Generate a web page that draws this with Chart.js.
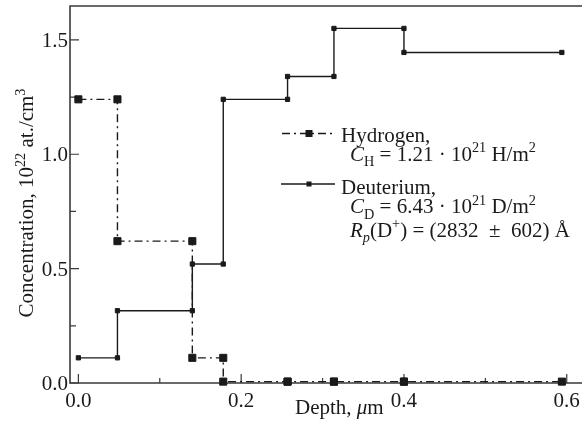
<!DOCTYPE html>
<html>
<head>
<meta charset="utf-8">
<script src="https://cdn.jsdelivr.net/npm/chart.js@4.4.1/dist/chart.umd.min.js"></script>
<style>
  html, body { margin: 0; padding: 0; background: #fff; }
  #wrap { width: 586px; height: 430px; }
</style>
</head>
<body>
<div id="wrap"><canvas id="c" width="586" height="430"></canvas></div>
<script>
// ---- data ----
const depthEdges = [0, 0.048, 0.14, 0.178, 0.257, 0.314, 0.40, 0.594];   // µm, layer boundaries
const hydrogen   = [1.24, 0.62, 0.11, 0.006, 0.006, 0.006, 0.006];       // 10^22 at./cm^3 per layer
const deuterium  = [0.11, 0.316, 0.52, 1.24, 1.34, 1.55, 1.445];         // 10^22 at./cm^3 per layer
const xMajorTicks = [0.0, 0.2, 0.4, 0.6];
const xMinorTicks = [0.1, 0.3, 0.5];
const xTickLabels = ['0.0', '0.2', '0.4', '0.6'];
const yMajorTicks = [0.0, 0.5, 1.0, 1.5];
const yMinorTicks = [0.25, 0.75, 1.25];
const yTickLabels = ['0.0', '0.5', '1.0', '1.5'];

// build step points (a marker at both ends of every layer)
function stepPoints(edges, vals) {
  const pts = [];
  for (let i = 0; i < vals.length; i++) {
    pts.push({ x: edges[i], y: vals[i] });
    pts.push({ x: edges[i + 1], y: vals[i] });
  }
  return pts;
}

const FONT = 'Liberation Serif, Times New Roman, serif';
const FS = 21;
const INK = '#1a1a1a';

function segFont(s, size) {
  const sz = (s.sub || s.sup) ? size * 0.68 : size;
  return (s.i ? 'italic ' : '') + sz + 'px ' + FONT;
}
function richWidth(ctx, segs, size) {
  let w = 0;
  segs.forEach(s => { ctx.font = segFont(s, size); w += ctx.measureText(s.t).width; });
  return w;
}
function drawRich(ctx, x, y, segs, size) {
  ctx.textBaseline = 'alphabetic';
  ctx.textAlign = 'left';
  let cx = x;
  segs.forEach(s => {
    ctx.font = segFont(s, size);
    let dy = 0;
    if (s.sub) dy = size * 0.28;
    if (s.sup) dy = -size * 0.40;
    ctx.fillText(s.t, cx, y + dy);
    cx += ctx.measureText(s.t).width;
  });
}

const axesPlugin = {
  id: 'axesPlugin',
  beforeDatasetsDraw(chart) {
    const { ctx, chartArea: a, scales } = chart;
    const xs = scales.x, ys = scales.y;
    ctx.save();
    ctx.strokeStyle = '#3a3a3a';
    ctx.lineWidth = 1.6;
    ctx.beginPath();
    ctx.moveTo(a.right + 2, a.top); ctx.lineTo(a.left, a.top);
    ctx.lineTo(a.left, a.bottom); ctx.lineTo(a.right + 2, a.bottom);
    ctx.stroke();
    ctx.lineWidth = 1.2;
    ctx.beginPath();
    xMajorTicks.forEach(v => { const p = xs.getPixelForValue(v); ctx.moveTo(p, a.bottom); ctx.lineTo(p, a.bottom - 9); });
    xMinorTicks.forEach(v => { const p = xs.getPixelForValue(v); ctx.moveTo(p, a.bottom); ctx.lineTo(p, a.bottom - 5); });
    yMajorTicks.forEach(v => { const p = ys.getPixelForValue(v); ctx.moveTo(a.left, p); ctx.lineTo(a.left + 9, p); });
    yMinorTicks.forEach(v => { const p = ys.getPixelForValue(v); ctx.moveTo(a.left, p); ctx.lineTo(a.left + 6, p); });
    ctx.stroke();
    ctx.restore();
  },
  afterDraw(chart) {
    const { ctx, chartArea: a, scales } = chart;
    const xs = scales.x, ys = scales.y;
    ctx.save();
    ctx.fillStyle = INK;
    ctx.font = FS + 'px ' + FONT;
    // x tick labels
    ctx.textAlign = 'center'; ctx.textBaseline = 'alphabetic';
    xMajorTicks.forEach((v, i) => ctx.fillText(xTickLabels[i], xs.getPixelForValue(v), a.bottom + 24));
    // y tick labels
    ctx.textAlign = 'right';
    yMajorTicks.forEach((v, i) => ctx.fillText(yTickLabels[i], a.left - 2, ys.getPixelForValue(v) + 7));
    // x title
    drawRich(ctx, 295, 414, [{ t: 'Depth, ' }, { t: 'μ', i: 1 }, { t: 'm' }], FS);
    // y title (rotated)
    const ySegs = [{ t: 'Concentration, 10' }, { t: '22', sup: 1 }, { t: ' at./cm' }, { t: '3', sup: 1 }];
    const w = richWidth(ctx, ySegs, FS);
    ctx.save();
    ctx.translate(33, 203);
    ctx.rotate(-Math.PI / 2);
    drawRich(ctx, -w / 2, 0, ySegs, FS);
    ctx.restore();

    // legend samples
    ctx.strokeStyle = INK; ctx.fillStyle = INK;
    ctx.lineWidth = 1.4;
    ctx.setLineDash([8, 4, 2, 4]);
    ctx.beginPath(); ctx.moveTo(282, 133.5); ctx.lineTo(335, 133.5); ctx.stroke();
    ctx.setLineDash([]);
    ctx.fillRect(309 - 3.5, 133.5 - 3.5, 7, 7);
    ctx.beginPath(); ctx.moveTo(281, 184); ctx.lineTo(335, 184); ctx.stroke();
    ctx.fillRect(309 - 2.5, 184 - 2.5, 5, 5);
    // legend texts
    drawRich(ctx, 341, 141.5, [{ t: 'Hydrogen,' }], FS);
    drawRich(ctx, 350, 160.5, [{ t: 'C', i: 1 }, { t: 'H', sub: 1 }, { t: ' = 1.21 · 10' }, { t: '21', sup: 1 }, { t: ' H/m' }, { t: '2', sup: 1 }], FS);
    drawRich(ctx, 341, 194, [{ t: 'Deuterium,' }], FS);
    drawRich(ctx, 350, 213, [{ t: 'C', i: 1 }, { t: 'D', sub: 1 }, { t: ' = 6.43 · 10' }, { t: '21', sup: 1 }, { t: ' D/m' }, { t: '2', sup: 1 }], FS);
    drawRich(ctx, 350, 236.5, [{ t: 'R', i: 1 }, { t: 'p', sub: 1, i: 1 }, { t: '(D' }, { t: '+', sup: 1 }, { t: ') = (2832\u2002±\u2002602) Å' }], FS);
    ctx.restore();
  }
};

new Chart(document.getElementById('c'), {
  type: 'scatter',
  data: {
    datasets: [
      {
        label: 'Hydrogen',
        data: stepPoints(depthEdges, hydrogen),
        showLine: true,
        borderColor: INK,
        backgroundColor: INK,
        borderWidth: 1.4,
        borderDash: [8, 4, 2, 4],
        pointStyle: 'rect',
        pointRadius: 5,
        pointBorderWidth: 1,
        pointBorderColor: INK,
        pointBackgroundColor: INK,
        clip: false,
        order: 2
      },
      {
        label: 'Deuterium',
        data: stepPoints(depthEdges, deuterium),
        showLine: true,
        borderColor: INK,
        backgroundColor: INK,
        borderWidth: 1.4,
        pointStyle: 'rect',
        pointRadius: 3,
        pointBorderWidth: 1,
        pointBorderColor: INK,
        pointBackgroundColor: INK,
        clip: false,
        order: 1
      }
    ]
  },
  options: {
    responsive: false,
    animation: false,
    devicePixelRatio: 1,
    layout: { padding: { left: 70, top: 4, right: 0, bottom: 47 } },
    plugins: { legend: { display: false }, tooltip: { enabled: false } },
    scales: {
      x: { type: 'linear', min: -0.0103, max: 0.6163, display: false },
      y: { type: 'linear', min: 0, max: 1.648, display: false }
    }
  },
  plugins: [axesPlugin]
});
</script>
</body>
</html>
